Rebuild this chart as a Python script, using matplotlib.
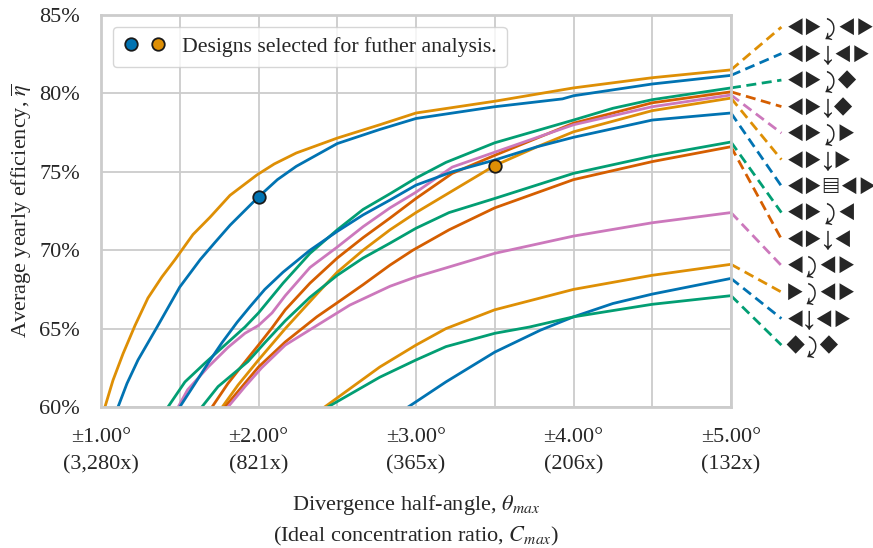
import matplotlib
matplotlib.use('Agg')
from matplotlib import pyplot as plt
from matplotlib.legend_handler import HandlerTuple
from matplotlib.lines import Line2D
from matplotlib.ticker import MultipleLocator
import seaborn as sns

sns.set_theme(style='whitegrid', palette='colorblind')
plt.rcParams['font.family'] = ['Liberation Serif', 'DejaVu Serif', 'DejaVu Sans']
plt.rcParams['mathtext.fontset'] = 'stix'

BLUE, ORANGE, GREEN, VERMILION, PINK = '#0173b2', '#de8f05', '#029e73', '#d55e00', '#cc78bc'

# curves: half-angle (deg), efficiency (%)
orange_a_x = [1.025, 1.076, 1.14, 1.216, 1.298, 1.387, 1.47, 1.584, 1.692, 1.819, 1.99, 2.1, 2.24, 2.5, 2.77, 3.0, 3.5, 4.0, 4.5, 5.0]
orange_a_y = [60.0, 61.7, 63.4, 65.2, 66.95, 68.3, 69.4, 71.0, 72.1, 73.5, 74.8, 75.5, 76.2, 77.15, 78.0, 78.75, 79.5, 80.35, 81.0, 81.5]
blue_a_x = [1.108, 1.165, 1.235, 1.356, 1.5, 1.63, 1.724, 1.82, 2.0, 2.12, 2.24, 2.5, 2.77, 3.0, 3.5, 3.93, 4.0, 4.5, 5.0]
blue_a_y = [60.0, 61.5, 63.0, 65.1, 67.65, 69.4, 70.5, 71.6, 73.4, 74.5, 75.35, 76.8, 77.7, 78.4, 79.15, 79.65, 79.85, 80.6, 81.15]
green_a_x = [1.425, 1.533, 1.66, 1.787, 1.914, 2.0, 2.156, 2.327, 2.5, 2.664, 2.835, 3.0, 3.19, 3.5, 4.0, 4.25, 4.5, 5.0]
green_a_y = [60.0, 61.6, 62.8, 63.95, 65.1, 66.0, 67.9, 69.8, 71.3, 72.6, 73.6, 74.6, 75.6, 76.85, 78.3, 79.05, 79.6, 80.35]
verm_a_x = [1.705, 1.806, 1.9, 2.0, 2.086, 2.17, 2.327, 2.5, 2.664, 2.835, 3.0, 3.23, 3.5, 4.0, 4.5, 5.0]
verm_a_y = [60.0, 61.5, 62.7, 63.95, 65.05, 66.2, 67.9, 69.5, 70.8, 72.05, 73.3, 74.9, 76.05, 78.1, 79.4, 80.1]
pink_a_x = [1.49, 1.55, 1.68, 1.806, 1.914, 2.0, 2.086, 2.17, 2.327, 2.5, 2.664, 2.835, 3.0, 3.23, 3.5, 4.0, 4.5, 5.0]
pink_a_y = [60.0, 61.1, 62.55, 63.8, 64.7, 65.2, 66.0, 67.1, 68.9, 70.2, 71.5, 72.7, 73.7, 75.3, 76.25, 78.0, 79.15, 79.9]
orange_b_x = [1.77, 1.87, 2.0, 2.17, 2.37, 2.5, 2.664, 2.835, 3.0, 3.5, 3.77, 4.0, 4.5, 5.0]
orange_b_y = [60.0, 61.4, 63.0, 65.0, 67.2, 68.6, 70.0, 71.3, 72.4, 75.4, 76.6, 77.55, 78.9, 79.7]
blue_b_x = [1.5, 1.597, 1.68, 1.768, 1.864, 1.946, 2.04, 2.156, 2.327, 2.5, 2.664, 2.835, 3.0, 3.23, 3.5, 3.77, 4.0, 4.5, 5.0]
blue_b_y = [60.0, 61.5, 62.8, 64.1, 65.4, 66.4, 67.5, 68.6, 70.0, 71.2, 72.25, 73.2, 74.15, 75.0, 75.75, 76.6, 77.2, 78.3, 78.75]
green_b_x = [1.64, 1.743, 1.85, 1.933, 2.04, 2.17, 2.327, 2.5, 2.664, 2.835, 3.0, 3.21, 3.5, 4.0, 4.5, 5.0]
green_b_y = [60.0, 61.3, 62.2, 62.9, 64.1, 65.5, 67.0, 68.4, 69.5, 70.45, 71.4, 72.4, 73.3, 74.9, 76.0, 76.9]
verm_b_x = [1.787, 2.0, 2.17, 2.37, 2.5, 2.664, 2.835, 2.98, 3.21, 3.5, 4.0, 4.5, 5.0]
verm_b_y = [60.0, 62.55, 64.15, 65.75, 66.65, 67.8, 69.05, 70.0, 71.3, 72.7, 74.5, 75.65, 76.6]
pink_b_x = [1.806, 1.914, 2.02, 2.17, 2.435, 2.58, 2.835, 3.0, 3.5, 4.0, 4.5, 5.0]
pink_b_y = [60.0, 61.3, 62.5, 63.95, 65.6, 66.5, 67.7, 68.3, 69.8, 70.9, 71.75, 72.4]
orange_c_x = [2.42, 2.77, 3.0, 3.19, 3.5, 4.0, 4.5, 5.0]
orange_c_y = [60.0, 62.55, 63.95, 65.0, 66.2, 67.5, 68.4, 69.1]
blue_c_x = [2.95, 3.19, 3.5, 3.79, 4.0, 4.25, 4.5, 5.0]
blue_c_y = [60.0, 61.6, 63.5, 64.9, 65.75, 66.6, 67.2, 68.2]
green_c_x = [2.44, 2.77, 3.0, 3.19, 3.5, 3.72, 4.0, 4.5, 5.0]
green_c_y = [60.0, 61.9, 63.0, 63.85, 64.7, 65.1, 65.75, 66.55, 67.1]

curves = [
    (orange_a_x, orange_a_y, ORANGE, '◀▶⤸◀▶'),
    (blue_a_x, blue_a_y, BLUE, '◀▶↓◀▶'),
    (green_a_x, green_a_y, GREEN, '◀▶⤸◆'),
    (verm_a_x, verm_a_y, VERMILION, '◀▶↓◆'),
    (pink_a_x, pink_a_y, PINK, '◀▶⤸▶'),
    (orange_b_x, orange_b_y, ORANGE, '◀▶↓▶'),
    (blue_b_x, blue_b_y, BLUE, '◀▶▤◀▶'),
    (green_b_x, green_b_y, GREEN, '◀▶⤸◀'),
    (verm_b_x, verm_b_y, VERMILION, '◀▶↓◀'),
    (pink_b_x, pink_b_y, PINK, '◀⤸◀▶'),
    (orange_c_x, orange_c_y, ORANGE, '▶⤸◀▶'),
    (blue_c_x, blue_c_y, BLUE, '◀↓◀▶'),
    (green_c_x, green_c_y, GREEN, '◆⤸◆'),
]

selected_x = [2.0, 3.5]
selected_y = [73.4, 75.4]
selected_c = [BLUE, ORANGE]

tick_x = [1, 2, 3, 4, 5]
tick_labels = ['±1.00°\n(3,280x)', '±2.00°\n(821x)', '±3.00°\n(365x)', '±4.00°\n(206x)', '±5.00°\n(132x)']
ytick_vals = [60, 65, 70, 75, 80, 85]

W, H = 873, 548
fig = plt.figure(figsize=(W / 100, H / 100), dpi=100)
ax = fig.add_axes([101 / W, 1 - 407 / H, 630 / W, 392 / H])

for i, (xs, ys, col, glyphs) in enumerate(curves):
    ax.plot(xs, ys, color=col, lw=2, solid_joinstyle='round')
    row = 84.23 - i * 1.69
    ax.plot([5.0, 5.32], [ys[-1], row], color=col, lw=2, ls=(0, (3.6, 2)), clip_on=False)
    ax.text(5.345, row - 0.1, glyphs, family=['Noto Sans Math', 'DejaVu Serif', 'DejaVu Sans'], fontsize=14.9, color='.15',
            ha='left', va='center', clip_on=False)

for x, y, c in zip(selected_x, selected_y, selected_c):
    ax.plot(x, y, 'o', color=c, ms=9, mec='k', mew=1.3, zorder=5)

ax.set_xlim(1, 5)
ax.set_ylim(60, 85)
ax.set_xticks(tick_x)
ax.set_xticklabels(tick_labels, fontsize=16, linespacing=1.6)
ax.xaxis.set_minor_locator(MultipleLocator(0.5))
ax.set_yticks(ytick_vals)
ax.set_yticklabels([f'{v}%' for v in ytick_vals], fontsize=16)
ax.grid(True, which='both', color='.8', lw=1.3)
ax.tick_params(which='both', length=0)
ax.tick_params(axis='x', pad=15)
ax.tick_params(axis='y', pad=15)
ax.set_axisbelow(True)
for s in ax.spines.values():
    s.set_color('.8')
    s.set_linewidth(2)
ax.set_xlabel('Divergence half-angle, $\\theta_{max}$\n(Ideal concentration ratio, $C_{max}$)', fontsize=16, color='.15', labelpad=13, linespacing=1.5)
ax.set_ylabel('Average yearly efficiency, $\\overline{\\eta}$', fontsize=16, color='.15', labelpad=4)

h1 = Line2D([], [], ls='', marker='o', color=BLUE, ms=9, mec='k', mew=1.3)
h2 = Line2D([], [], ls='', marker='o', color=ORANGE, ms=9, mec='k', mew=1.3)
ax.legend([(h1, h2)], ['Designs selected for futher analysis.'], handler_map={tuple: HandlerTuple(ndivide=None)},
          loc='upper left', fontsize=15.7, frameon=True, handlelength=2.0, borderaxespad=0.55, handletextpad=0.72, borderpad=0.45)

fig.savefig('out.png', dpi=100)
